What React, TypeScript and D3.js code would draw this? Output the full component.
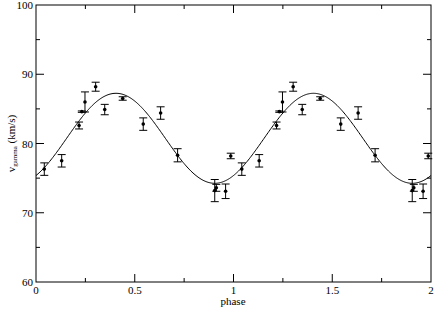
import React, { useRef, useEffect } from 'react';
import * as d3 from 'd3';

// phase, radial velocity and error (one cycle, drawn twice)
const phases = [0.042, 0.13, 0.218, 0.232, 0.248, 0.302, 0.348, 0.439, 0.543, 0.631, 0.717, 0.905, 0.913, 0.96, 0.986];
const velocities = [76.3, 77.5, 82.6, 84.6, 86.0, 88.2, 84.9, 86.5, 82.8, 84.4, 78.3, 73.2, 73.6, 73.1, 78.2];
const errors = [0.9, 0.9, 0.5, 0.1, 1.45, 0.65, 0.75, 0.25, 0.9, 0.9, 0.95, 1.6, 0.5, 1.05, 0.4];

// sine fit: gamma, K, phase of maximum
const fitGamma = 80.75;
const fitK = 6.5;
const fitPhiMax = 0.405;

const xTicks = [0, 0.5, 1, 1.5, 2];
const xTickLabels = ['0', '0.5', '1', '1.5', '2'];
const yTicks = [60, 70, 80, 90, 100];

const App = () => {
  const ref = useRef<SVGSVGElement>(null);

  useEffect(() => {
    if (!ref.current) return;
    document.body.style.margin = '0';
    const svg = d3.select(ref.current);
    svg.selectAll('*').remove();

    const left = 36, right = 431, top = 5, bottom = 282;
    const x = d3.scaleLinear().domain([0, 2]).range([left, right]);
    const y = d3.scaleLinear().domain([60, 100]).range([bottom, top]);
    const font = "'Liberation Serif', 'DejaVu Serif', serif";

    // frame
    svg.append('rect')
      .attr('x', left).attr('y', top)
      .attr('width', right - left).attr('height', bottom - top)
      .attr('fill', 'none').attr('stroke', '#000').attr('stroke-width', 1);

    // inward ticks on all four sides
    const xMinor = d3.range(0.25, 2, 0.5);
    const yMinor = d3.range(65, 100, 10);
    const g = svg.append('g').attr('stroke', '#000').attr('stroke-width', 1);
    const tickX = (v: number, len: number) => {
      g.append('line').attr('x1', x(v)).attr('x2', x(v)).attr('y1', bottom).attr('y2', bottom - len);
      g.append('line').attr('x1', x(v)).attr('x2', x(v)).attr('y1', top).attr('y2', top + len);
    };
    const tickY = (v: number, len: number) => {
      g.append('line').attr('y1', y(v)).attr('y2', y(v)).attr('x1', left).attr('x2', left + len);
      g.append('line').attr('y1', y(v)).attr('y2', y(v)).attr('x1', right).attr('x2', right - len);
    };
    xTicks.slice(1, -1).forEach((v) => tickX(v, 8));
    xMinor.forEach((v) => tickX(v, 4));
    yTicks.slice(1, -1).forEach((v) => tickY(v, 8));
    yMinor.forEach((v) => tickY(v, 4));

    // tick labels
    svg.append('g').selectAll('text').data(xTicks).enter().append('text')
      .attr('x', (d) => x(d)).attr('y', bottom + 12)
      .attr('text-anchor', 'middle').attr('font-size', 11).style('font-family', font)
      .text((d, i) => xTickLabels[i]);
    svg.append('g').selectAll('text').data(yTicks).enter().append('text')
      .attr('x', left - 3).attr('y', (d) => y(d) + 4)
      .attr('text-anchor', 'end').attr('font-size', 11).style('font-family', font)
      .text((d) => d);

    // axis titles
    svg.append('text')
      .attr('x', (left + right) / 2 - 0.5).attr('y', 305)
      .attr('text-anchor', 'middle').attr('font-size', 11).style('font-family', font)
      .text('phase');
    const yl = svg.append('text')
      .attr('transform', `translate(15,${(top + bottom) / 2}) rotate(-90)`)
      .attr('text-anchor', 'middle').attr('font-size', 11).style('font-family', font);
    yl.append('tspan').text('v');
    yl.append('tspan').attr('font-size', 7).attr('dy', 2).text('gamma');
    yl.append('tspan').attr('dy', -2).text(' (km/s)');

    // fitted curve
    const curve = d3.range(0, 2.0001, 0.005).map((p) => [p, fitGamma + fitK * Math.cos(2 * Math.PI * (p - fitPhiMax))]);
    svg.append('path')
      .attr('d', d3.line<number[]>().x((d) => x(d[0])).y((d) => y(d[1]))(curve) as string)
      .attr('fill', 'none').attr('stroke', '#000').attr('stroke-width', 1);

    // data, repeated over two cycles
    const pts = [0, 1].flatMap((c) => phases.map((p, i) => ({ p: p + c, v: velocities[i], e: errors[i] })));
    const pg = svg.append('g').attr('stroke', '#000').attr('stroke-width', 1);
    pts.forEach((d) => {
      const cx = x(d.p);
      pg.append('line').attr('x1', cx).attr('x2', cx).attr('y1', y(d.v - d.e)).attr('y2', y(d.v + d.e));
      pg.append('line').attr('x1', cx - 4).attr('x2', cx + 4).attr('y1', y(d.v - d.e)).attr('y2', y(d.v - d.e));
      pg.append('line').attr('x1', cx - 4).attr('x2', cx + 4).attr('y1', y(d.v + d.e)).attr('y2', y(d.v + d.e));
    });
    svg.append('g').selectAll('circle').data(pts).enter().append('circle')
      .attr('cx', (d) => x(d.p)).attr('cy', (d) => y(d.v)).attr('r', 1.8).attr('fill', '#000');
  }, []);

  return <svg ref={ref} width={436} height={309} style={{ display: 'block', background: '#fff' }} />;
};

export default App;
